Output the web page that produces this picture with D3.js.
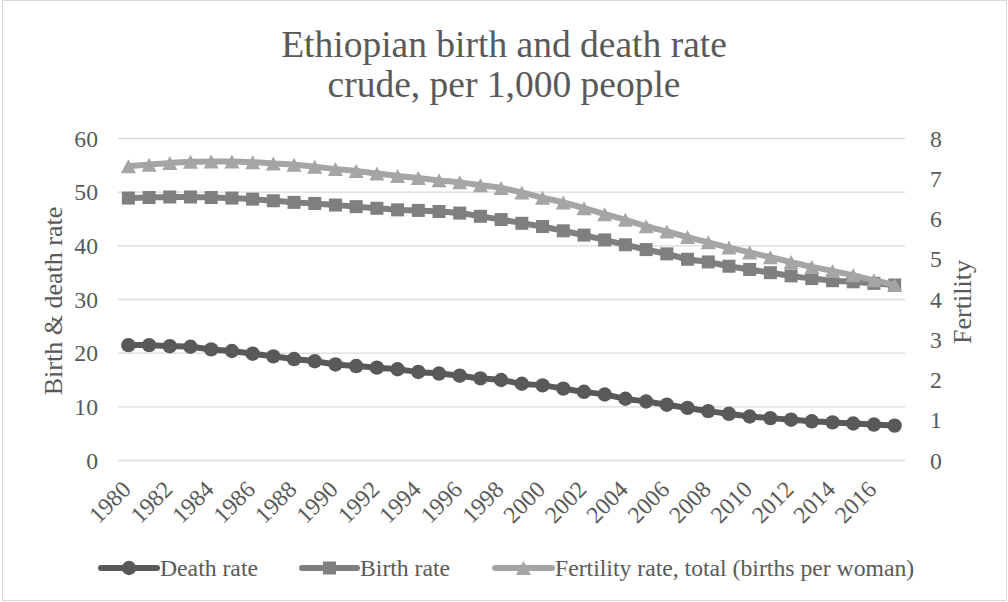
<!DOCTYPE html>
<html>
<head>
<meta charset="utf-8">
<script src="https://cdn.jsdelivr.net/npm/d3@7"></script>
<style>
  html, body { margin: 0; padding: 0; background: #ffffff; }
  svg { display: block; font-family: "Liberation Serif", "Times New Roman", serif; }
</style>
</head>
<body>
<svg id="chart" width="1008" height="602"></svg>
<script>
// Ethiopia: crude birth and death rates (per 1,000 people) and total fertility rate
const years = d3.range(1980, 2018);
const deathRate = [
  21.5, 21.5, 21.3, 21.2, 20.7, 20.4, 19.9, 19.4, 18.9, 18.5,
  17.9, 17.6, 17.3, 17.0, 16.5, 16.2, 15.8, 15.3, 15.0, 14.3,
  14.0, 13.4, 12.8, 12.3, 11.5, 11.0, 10.4, 9.8, 9.2, 8.7,
  8.2, 7.9, 7.6, 7.3, 7.1, 6.9, 6.7, 6.5
];
const birthRate = [
  48.9, 49.0, 49.1, 49.1, 49.0, 48.9, 48.7, 48.4, 48.1, 47.9,
  47.6, 47.3, 47.0, 46.7, 46.6, 46.4, 46.1, 45.5, 44.9, 44.2,
  43.6, 42.8, 42.0, 41.1, 40.2, 39.3, 38.5, 37.5, 37.0, 36.2,
  35.6, 35.0, 34.4, 33.9, 33.5, 33.3, 33.0, 32.7
];
const fertilityRate = [
  7.31, 7.35, 7.39, 7.42, 7.43, 7.43, 7.41, 7.38, 7.35, 7.30,
  7.24, 7.19, 7.13, 7.07, 7.02, 6.96, 6.91, 6.84, 6.77, 6.66,
  6.53, 6.41, 6.27, 6.12, 5.98, 5.82, 5.69, 5.55, 5.42, 5.29,
  5.17, 5.05, 4.93, 4.81, 4.71, 4.60, 4.48, 4.36
];
const leftTicks = [0, 10, 20, 30, 40, 50, 60];
const rightTicks = [0, 1, 2, 3, 4, 5, 6, 7, 8];
const xTickYears = years.filter(y => (y - 1980) % 2 === 0);
const titleLines = ["Ethiopian birth and death rate", "crude, per 1,000 people"];
const legendLabels = ["Death rate", "Birth rate", "Fertility rate, total (births per woman)"];

const textColor = "#595959";
const gridColor = "#d9d9d9";
const seriesColors = ["#595959", "#7f7f7f", "#a5a5a5"];

const svg = d3.select("#chart");
const W = 1008, H = 602;
const plot = { left: 118, right: 905, top: 138.5, bottom: 460.5 };

// chart frame
svg.append("rect")
  .attr("x", 2.5).attr("y", 0.5)
  .attr("width", W - 4).attr("height", H - 2)
  .attr("fill", "#ffffff").attr("stroke", gridColor).attr("stroke-width", 1);

const x = d3.scaleBand().domain(years).range([plot.left, plot.right]).padding(0);
const cx = d => x(d) + x.bandwidth() / 2;
const yL = d3.scaleLinear().domain([0, 60]).range([plot.bottom, plot.top]);
const yR = d3.scaleLinear().domain([0, 8]).range([plot.bottom, plot.top]);

// title
svg.append("text")
  .attr("x", 504).attr("text-anchor", "middle")
  .attr("fill", textColor).attr("font-size", 37.5)
  .selectAll("tspan").data(titleLines).join("tspan")
  .attr("x", 504)
  .attr("y", (d, i) => 57 + i * 40)
  .text(d => d);

// horizontal gridlines
svg.append("g").selectAll("line").data(leftTicks).join("line")
  .attr("x1", plot.left).attr("x2", plot.right)
  .attr("y1", d => yL(d)).attr("y2", d => yL(d))
  .attr("stroke", gridColor).attr("stroke-width", 1.3);

// left axis labels
const leftAxis = d3.axisLeft(yL).tickValues(leftTicks).tickSize(0).tickPadding(20);
const gL = svg.append("g").attr("transform", `translate(${plot.left},0)`).call(leftAxis);
gL.attr("font-family", null);
gL.select(".domain").remove();
gL.selectAll("text").attr("fill", textColor).attr("font-size", 23.7);

// right axis labels
const rightAxis = d3.axisRight(yR).tickValues(rightTicks).tickSize(0).tickPadding(25);
const gR = svg.append("g").attr("transform", `translate(${plot.right},0)`).call(rightAxis);
gR.attr("font-family", null);
gR.select(".domain").remove();
gR.selectAll("text").attr("fill", textColor).attr("font-size", 23.7);

// x axis labels (every other year, rotated)
svg.append("g").selectAll("text").data(xTickYears).join("text")
  .attr("transform", d => `translate(${cx(d) + 4},491) rotate(-45)`)
  .attr("text-anchor", "end")
  .attr("fill", textColor).attr("font-size", 23.7)
  .text(d => d);

// axis titles
svg.append("text")
  .attr("transform", "translate(62,301) rotate(-90)")
  .attr("text-anchor", "middle")
  .attr("fill", textColor).attr("font-size", 26)
  .text("Birth & death rate");
svg.append("text")
  .attr("transform", "translate(971,302) rotate(-90)")
  .attr("text-anchor", "middle")
  .attr("fill", textColor).attr("font-size", 26)
  .text("Fertility");

// marker shapes
const triPath = "M0,-7L7.5,7L-7.5,7Z";
function drawMarker(g, kind, color) {
  if (kind === "circle") {
    g.append("circle").attr("r", 7.2).attr("fill", color);
  } else if (kind === "square") {
    g.append("rect").attr("x", -6.5).attr("y", -6.5).attr("width", 13).attr("height", 13)
      .attr("fill", color);
  } else {
    g.append("path").attr("d", triPath).attr("fill", color);
  }
}

const series = [
  { values: deathRate, scale: yL, kind: "circle", color: seriesColors[0] },
  { values: birthRate, scale: yL, kind: "square", color: seriesColors[1] },
  { values: fertilityRate, scale: yR, kind: "triangle", color: seriesColors[2] }
];

series.forEach(s => {
  const pts = years.map((yr, i) => [cx(yr), s.scale(s.values[i])]);
  const line = d3.line().curve(d3.curveCatmullRom.alpha(0.5));
  svg.append("path")
    .attr("d", line(pts))
    .attr("fill", "none").attr("stroke", s.color)
    .attr("stroke-width", 6).attr("stroke-linejoin", "round").attr("stroke-linecap", "round");
  const mg = svg.append("g");
  pts.forEach(p => {
    const m = mg.append("g").attr("transform", `translate(${p[0]},${p[1]})`);
    drawMarker(m, s.kind, s.color);
  });
});

// legend
const legendY = 568;
const legendItems = [
  { x0: 101, x1: 157, tx: 160 },
  { x0: 302, x1: 357, tx: 360 },
  { x0: 495, x1: 552, tx: 555 }
];
legendItems.forEach((it, i) => {
  const g = svg.append("g");
  g.append("line")
    .attr("x1", it.x0).attr("x2", it.x1)
    .attr("y1", legendY).attr("y2", legendY)
    .attr("stroke", series[i].color).attr("stroke-width", 6).attr("stroke-linecap", "round");
  const m = g.append("g").attr("transform", `translate(${(it.x0 + it.x1) / 2},${legendY})`);
  drawMarker(m, series[i].kind, series[i].color);
  g.append("text")
    .attr("x", it.tx).attr("y", legendY).attr("dy", "0.35em")
    .attr("fill", textColor).attr("font-size", 23.7)
    .text(legendLabels[i]);
});
</script>
</body>
</html>
